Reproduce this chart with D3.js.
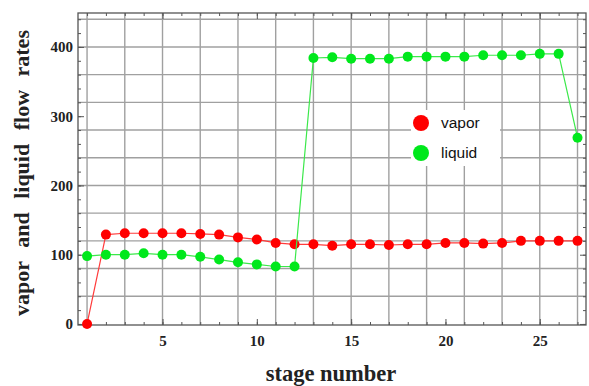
<!DOCTYPE html>
<html>
<head>
<meta charset="utf-8">
<script src="https://cdn.jsdelivr.net/npm/d3@7"></script>
<style>
  body { margin: 0; background: #fff; }
</style>
</head>
<body>
<script>
  // stage numbers 1..27
  const stages = [1,2,3,4,5,6,7,8,9,10,11,12,13,14,15,16,17,18,19,20,21,22,23,24,25,26,27];
  const vapor = [0,129,131,131,131,131,130,129,125,122,117,115,115,113,115,115,114,115,115,117,117,116,117,120,120,120,120];
  const liquid = [98,100,100,102,100,100,97,93,89,86,83,83,384,385,383,383,383,386,386,386,386,388,388,388,390,390,269];
  const xTickLabels = [5,10,15,20,25];
  const yTickLabels = [0,100,200,300,400];
  const seriesNames = ["vapor","liquid"];

  let width = 589, height = 386;
  let pLeft = 78, pRight = 586, pTop = 13, pBottom = 325;

  let svg = d3.select("body").append("svg")
    .attr("width", width).attr("height", height);

  let x = d3.scaleLinear().domain([0.52, 27.45]).range([pLeft, pRight]);
  let y = d3.scaleLinear().domain([-1.5, 449]).range([pBottom, pTop]);

  // grid lines (odd stages, every 40 units)
  let grid = svg.append("g").attr("stroke", "#a0a0a0").attr("stroke-width", 1.4);
  grid.selectAll("line.v")
    .data(d3.range(1, 28, 2))
    .enter().append("line")
    .attr("x1", d => x(d)).attr("x2", d => x(d))
    .attr("y1", pTop).attr("y2", pBottom);
  grid.selectAll("line.h")
    .data(d3.range(40, 441, 40))
    .enter().append("line")
    .attr("y1", d => y(d)).attr("y2", d => y(d))
    .attr("x1", pLeft).attr("x2", pRight);

  // frame ticks, pointing inward
  let fontSerif = "'Liberation Serif', 'DejaVu Serif', serif";
  function styleAxis(g) {
    g.select(".domain").remove();
    g.selectAll("line").attr("stroke", "#555");
    g.selectAll("text").style("font-family", fontSerif).style("font-weight", "bold")
      .style("font-size", "15px").attr("fill", "#222");
  }
  let xMinor = d3.range(1, 28);
  let yMinor = d3.range(0, 441, 20);

  svg.append("g").attr("transform", `translate(0,${pBottom})`)
    .call(d3.axisBottom(x).tickValues(xMinor).tickSize(-3).tickFormat(""))
    .call(styleAxis);
  svg.append("g").attr("transform", `translate(0,${pBottom})`)
    .call(d3.axisBottom(x).tickValues(xTickLabels).tickSizeInner(-6).tickSizeOuter(0).tickPadding(10))
    .call(styleAxis);
  svg.append("g").attr("transform", `translate(0,${pTop})`)
    .call(d3.axisTop(x).tickValues(xMinor).tickSize(-3).tickFormat(""))
    .call(styleAxis);
  svg.append("g").attr("transform", `translate(0,${pTop})`)
    .call(d3.axisTop(x).tickValues(xTickLabels).tickSize(-6).tickFormat(""))
    .call(styleAxis);

  svg.append("g").attr("transform", `translate(${pLeft},0)`)
    .call(d3.axisLeft(y).tickValues(yMinor).tickSize(-3).tickFormat(""))
    .call(styleAxis);
  svg.append("g").attr("transform", `translate(${pLeft},0)`)
    .call(d3.axisLeft(y).tickValues(yTickLabels).tickSizeInner(-6).tickSizeOuter(0).tickPadding(5))
    .call(styleAxis);
  svg.append("g").attr("transform", `translate(${pRight},0)`)
    .call(d3.axisRight(y).tickValues(yMinor).tickSize(-3).tickFormat(""))
    .call(styleAxis);
  svg.append("g").attr("transform", `translate(${pRight},0)`)
    .call(d3.axisRight(y).tickValues(yTickLabels).tickSize(-6).tickFormat(""))
    .call(styleAxis);

  // frame
  svg.append("rect")
    .attr("x", pLeft).attr("y", pTop)
    .attr("width", pRight - pLeft).attr("height", pBottom - pTop)
    .attr("fill", "none").attr("stroke", "#555").attr("stroke-width", 1.3);

  // series
  let series = [
    {name: seriesNames[0], values: vapor, dot: "#ff0000", line: "#ff3b3b"},
    {name: seriesNames[1], values: liquid, dot: "#00e81c", line: "#3be84a"}
  ];
  let line = d3.line().x((d, i) => x(stages[i])).y(d => y(d));

  series.forEach(s => {
    svg.append("path")
      .datum(s.values)
      .attr("d", line)
      .attr("fill", "none")
      .attr("stroke", s.line)
      .attr("stroke-width", 1.2);
    svg.append("g").selectAll("circle")
      .data(s.values)
      .enter().append("circle")
      .attr("cx", (d, i) => x(stages[i]))
      .attr("cy", d => y(d))
      .attr("r", 5)
      .attr("fill", s.dot);
  });

  // legend
  let legend = svg.append("g");
  legend.append("rect")
    .attr("x", 411).attr("y", 110).attr("width", 89).attr("height", 56)
    .attr("fill", "#fff");
  series.forEach((s, i) => {
    legend.append("circle")
      .attr("cx", 421).attr("cy", 123 + i * 30)
      .attr("r", 8).attr("fill", s.dot);
    legend.append("text")
      .attr("x", 441).attr("y", 128 + i * 30)
      .text(s.name)
      .style("font-family", "'Liberation Sans', Arial, sans-serif")
      .style("font-size", "15.5px")
      .attr("fill", "#111");
  });

  // axis titles
  svg.append("text")
    .attr("x", 331).attr("y", 381)
    .attr("text-anchor", "middle")
    .text("stage number")
    .style("font-family", fontSerif).style("font-weight", "bold")
    .style("font-size", "22.5px").attr("fill", "#222");

  svg.append("text")
    .attr("transform", `translate(29,${173}) rotate(-90)`)
    .attr("text-anchor", "middle")
    .text("vapor and liquid flow rates")
    .style("font-family", fontSerif).style("font-weight", "bold")
    .style("font-size", "22px").style("word-spacing", "8px").attr("fill", "#222");
</script>
</body>
</html>
